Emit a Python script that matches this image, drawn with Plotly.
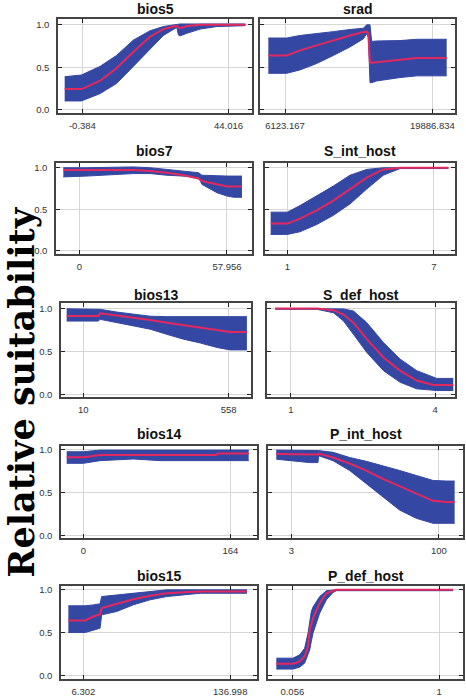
import plotly.graph_objects as go

W, H = 466, 700
BLUE = "#3447a2"
RED = "#e3285f"

# ---- response curves: x, mean, lower (mean - sd), upper (mean + sd)
BIOS5_X = [-5.77, -0.69, 4.90, 9.98, 15.06, 20.14, 24.20, 28.27, 28.78, 29.28, 31.31, 35.38, 40.46, 49.10]
BIOS5_MEAN = [0.245, 0.245, 0.34, 0.49, 0.68, 0.86, 0.95, 0.99, 0.97, 0.96, 0.985, 1.0, 1.0, 1.0]
BIOS5_LO = [0.105, 0.105, 0.19, 0.31, 0.51, 0.72, 0.875, 0.97, 0.88, 0.87, 0.90, 0.95, 0.98, 0.99]
BIOS5_HI = [0.39, 0.41, 0.51, 0.64, 0.82, 0.93, 0.98, 1.0, 1.01, 1.01, 1.01, 1.01, 1.01, 1.01]

SRAD_X = [4566, 6279, 7524, 9081, 10638, 12195, 13441, 13752, 13908, 14064, 14220, 14687, 16867, 18424, 21227]
SRAD_MEAN = [0.64, 0.64, 0.70, 0.76, 0.82, 0.875, 0.915, 0.92, 0.90, 0.555, 0.553, 0.56, 0.595, 0.61, 0.61]
SRAD_LO = [0.43, 0.43, 0.47, 0.545, 0.64, 0.74, 0.835, 0.895, 0.85, 0.32, 0.32, 0.34, 0.38, 0.40, 0.40]
SRAD_HI = [0.845, 0.845, 0.875, 0.895, 0.92, 0.945, 0.96, 1.0, 1.0, 1.0, 0.805, 0.81, 0.815, 0.83, 0.83]

BIOS7_X = [-6.29, 2.88, 21.24, 27.79, 34.35, 40.90, 46.80, 48.11, 54.01, 57.95, 60.57, 63.85]
BIOS7_MEAN = [0.972, 0.972, 0.972, 0.96, 0.94, 0.91, 0.87, 0.84, 0.80, 0.775, 0.775, 0.775]
BIOS7_LO = [0.89, 0.90, 0.93, 0.93, 0.91, 0.90, 0.89, 0.80, 0.70, 0.66, 0.645, 0.645]
BIOS7_HI = [1.0, 1.0, 1.01, 1.0, 0.98, 0.96, 0.94, 0.91, 0.90, 0.90, 0.90, 0.90]

SINT_X = [0.318, 1.0, 1.518, 2.2, 2.882, 3.564, 4.246, 4.927, 5.61, 7.588]
SINT_MEAN = [0.328, 0.328, 0.387, 0.486, 0.605, 0.743, 0.88, 0.98, 1.0, 1.0]
SINT_LO = [0.198, 0.198, 0.23, 0.316, 0.427, 0.565, 0.743, 0.91, 0.99, 0.99]
SINT_HI = [0.466, 0.466, 0.545, 0.664, 0.78, 0.91, 0.98, 1.0, 1.0, 1.0]

BIOS13_X = [-53, 66.7, 73, 136, 199, 262, 325, 388, 451, 514, 564, 627]
BIOS13_MEAN = [0.912, 0.912, 0.943, 0.92, 0.893, 0.866, 0.835, 0.805, 0.778, 0.747, 0.728, 0.728]
BIOS13_LO = [0.854, 0.854, 0.874, 0.835, 0.80, 0.76, 0.70, 0.644, 0.60, 0.548, 0.52, 0.52]
BIOS13_HI = [0.996, 0.996, 0.99, 0.958, 0.93, 0.91, 0.905, 0.905, 0.905, 0.905, 0.905, 0.905]

SDEF_X = [0.674, 1.540, 1.887, 2.095, 2.302, 2.580, 2.926, 3.272, 3.619, 3.965, 4.035, 4.38]
SDEF_MEAN = [1.0, 1.0, 0.98, 0.93, 0.835, 0.644, 0.433, 0.28, 0.165, 0.115, 0.115, 0.115]
SDEF_LO = [0.99, 0.99, 0.95, 0.854, 0.70, 0.49, 0.28, 0.146, 0.069, 0.05, 0.05, 0.05]
SDEF_HI = [1.0, 1.0, 1.0, 0.995, 0.97, 0.835, 0.605, 0.414, 0.28, 0.203, 0.19, 0.19]

BIOS14_X = [-18.6, 0, 18.6, 55.9, 85.7, 148, 150, 184.5]
BIOS14_MEAN = [0.912, 0.912, 0.94, 0.94, 0.94, 0.94, 0.955, 0.955]
BIOS14_LO = [0.842, 0.842, 0.873, 0.892, 0.873, 0.873, 0.873, 0.873]
BIOS14_HI = [0.977, 0.977, 0.996, 0.996, 0.996, 0.996, 0.996, 0.996]

PINT_X = [-6.86, 15.0, 20.5, 21.0, 30.4, 41.3, 52.3, 63.2, 74.2, 85.1, 96.1, 104.8, 110.3]
PINT_MEAN = [0.95, 0.95, 0.945, 0.955, 0.91, 0.84, 0.757, 0.66, 0.573, 0.488, 0.404, 0.392, 0.392]
PINT_LO = [0.89, 0.85, 0.85, 0.93, 0.873, 0.758, 0.604, 0.45, 0.296, 0.20, 0.142, 0.142, 0.142]
PINT_HI = [0.996, 0.996, 0.99, 0.99, 0.97, 0.91, 0.865, 0.815, 0.758, 0.70, 0.642, 0.635, 0.635]

BIOS15_X = [-7.06, 7.79, 15.2, 21.15, 22.6, 36.0, 50.85, 65.7, 80.5, 95.4, 110.3, 151.8]
BIOS15_MEAN = [0.643, 0.643, 0.69, 0.717, 0.787, 0.837, 0.89, 0.93, 0.96, 0.973, 0.98, 0.98]
BIOS15_LO = [0.504, 0.504, 0.53, 0.554, 0.709, 0.748, 0.826, 0.884, 0.922, 0.942, 0.96, 0.96]
BIOS15_HI = [0.814, 0.814, 0.825, 0.837, 0.922, 0.94, 0.96, 0.988, 1.0, 1.0, 1.0, 1.0]

PDEF_X = [-0.047, 0.060, 0.103, 0.135, 0.157, 0.168, 0.178, 0.189, 0.232, 0.275, 0.318, 0.339, 1.090]
PDEF_MEAN = [0.14, 0.14, 0.167, 0.225, 0.34, 0.535, 0.60, 0.67, 0.845, 0.96, 0.99, 1.0, 1.0]
PDEF_LO = [0.078, 0.078, 0.10, 0.147, 0.25, 0.302, 0.40, 0.496, 0.729, 0.884, 0.97, 0.99, 0.99]
PDEF_HI = [0.205, 0.205, 0.244, 0.32, 0.496, 0.65, 0.748, 0.80, 0.922, 0.99, 1.0, 1.0, 1.0]

# ---- panel titles and the two x tick values of each panel
TITLES = ["bios5", "srad", "bios7", "S_int_host", "bios13",
          "S_def_host", "bios14", "P_int_host", "bios15", "P_def_host"]
X_TICKS = [[-0.384, 44.016], [6123.167, 19886.834], [0, 57.956], [1, 7], [10, 558],
           [1, 4], [0, 164], [3, 100], [6.302, 136.998], [0.056, 1]]
Y_TICKS = [0, 0.5, 1.0]

CURVES = [
    (BIOS5_X, BIOS5_MEAN, BIOS5_LO, BIOS5_HI),
    (SRAD_X, SRAD_MEAN, SRAD_LO, SRAD_HI),
    (BIOS7_X, BIOS7_MEAN, BIOS7_LO, BIOS7_HI),
    (SINT_X, SINT_MEAN, SINT_LO, SINT_HI),
    (BIOS13_X, BIOS13_MEAN, BIOS13_LO, BIOS13_HI),
    (SDEF_X, SDEF_MEAN, SDEF_LO, SDEF_HI),
    (BIOS14_X, BIOS14_MEAN, BIOS14_LO, BIOS14_HI),
    (PINT_X, PINT_MEAN, PINT_LO, PINT_HI),
    (BIOS15_X, BIOS15_MEAN, BIOS15_LO, BIOS15_HI),
    (PDEF_X, PDEF_MEAN, PDEF_LO, PDEF_HI),
]

# ---- layout: panel boxes in pixels (left, right, top, bottom)
BOXES = [
    (58, 252, 17, 112), (260, 455, 17, 112),
    (56, 252, 162, 254), (265, 455, 162, 254),
    (61, 251, 303, 398), (267, 455, 303, 398),
    (61, 257, 447, 540), (268, 463, 447, 540),
    (61, 257, 588, 682), (268, 463, 588, 682),
]
X_RANGES = [(-7.80, 51.13), (3788, 22004), (-9.18, 67.79), (0.086, 7.86), (-74.4, 642.4),
            (0.501, 4.416), (-24.97, 193.8), (-12.3, 115.8), (-13.6, 160.8), (-0.1006, 1.154)]
Y_RANGES = [(-0.039, 1.070), (-0.040, 1.059), (-0.027, 1.065), (-0.031, 1.046), (-0.039, 1.047)]
TITLE_Y = [7, 150, 295, 435, 578]

TICK_FONT = dict(family="Liberation Sans, Arial", size=9.5, color="#333")

fig = go.Figure()
layout = dict(width=W, height=H, margin=dict(l=0, r=0, t=0, b=0),
              paper_bgcolor="white", plot_bgcolor="white", showlegend=False)
annotations = []

for i, (xs, mean, lo, hi) in enumerate(CURVES):
    n = i + 1
    xa, ya = ("x%d" % n if n > 1 else "x"), ("y%d" % n if n > 1 else "y")
    fig.add_trace(go.Scatter(x=xs, y=lo, mode="lines", line=dict(color=BLUE, width=1),
                             xaxis=xa, yaxis=ya, hoverinfo="skip"))
    fig.add_trace(go.Scatter(x=xs, y=hi, mode="lines", line=dict(color=BLUE, width=1),
                             fill="tonexty", fillcolor=BLUE, xaxis=xa, yaxis=ya, hoverinfo="skip"))
    fig.add_trace(go.Scatter(x=xs, y=mean, mode="lines", line=dict(color=RED, width=2),
                             xaxis=xa, yaxis=ya))

    left, right, top, bottom = BOXES[i]
    row, col = i // 2, i % 2
    common = dict(showline=True, linecolor="#444", linewidth=1.5, mirror="ticks",
                  ticks="inside", ticklen=4, tickcolor="#222", showgrid=True,
                  gridcolor="#d6d6d6", gridwidth=1, zeroline=False, tickfont=TICK_FONT)
    layout["xaxis%d" % n] = dict(common, domain=[left / W, right / W], range=list(X_RANGES[i]),
                                 anchor=ya, tickvals=X_TICKS[i], ticklabelstandoff=3,
                                 ticktext=[str(v) for v in X_TICKS[i]])
    layout["yaxis%d" % n] = dict(common, domain=[1 - bottom / H, 1 - top / H],
                                 range=list(Y_RANGES[row]), anchor=xa, tickvals=Y_TICKS,
                                 ticklabelstandoff=5, tickformat=".1f",
                                 showticklabels=(col == 0))
    annotations.append(dict(text="<b>%s</b>" % TITLES[i], xref="paper", yref="paper",
                            x=(left + right) / 2 / W, y=1 - TITLE_Y[row] / H,
                            xanchor="center", yanchor="middle", showarrow=False,
                            font=dict(family="Liberation Sans, Arial", size=14, color="#111")))

annotations.append(dict(text="<b>Relative suitability</b>", xref="paper", yref="paper",
                        x=21.5 / W, y=1 - 393 / H, xanchor="center", yanchor="middle",
                        textangle=-90, showarrow=False,
                        font=dict(family="DejaVu Serif", size=35, color="#000")))
layout["annotations"] = annotations
fig.update_layout(**layout)

# drop the default page margin so the 466x700 figure fills the window exactly
fig.write_html("out.html", config={"displayModeBar": False},
               post_script="document.body.style.margin = '0';")
